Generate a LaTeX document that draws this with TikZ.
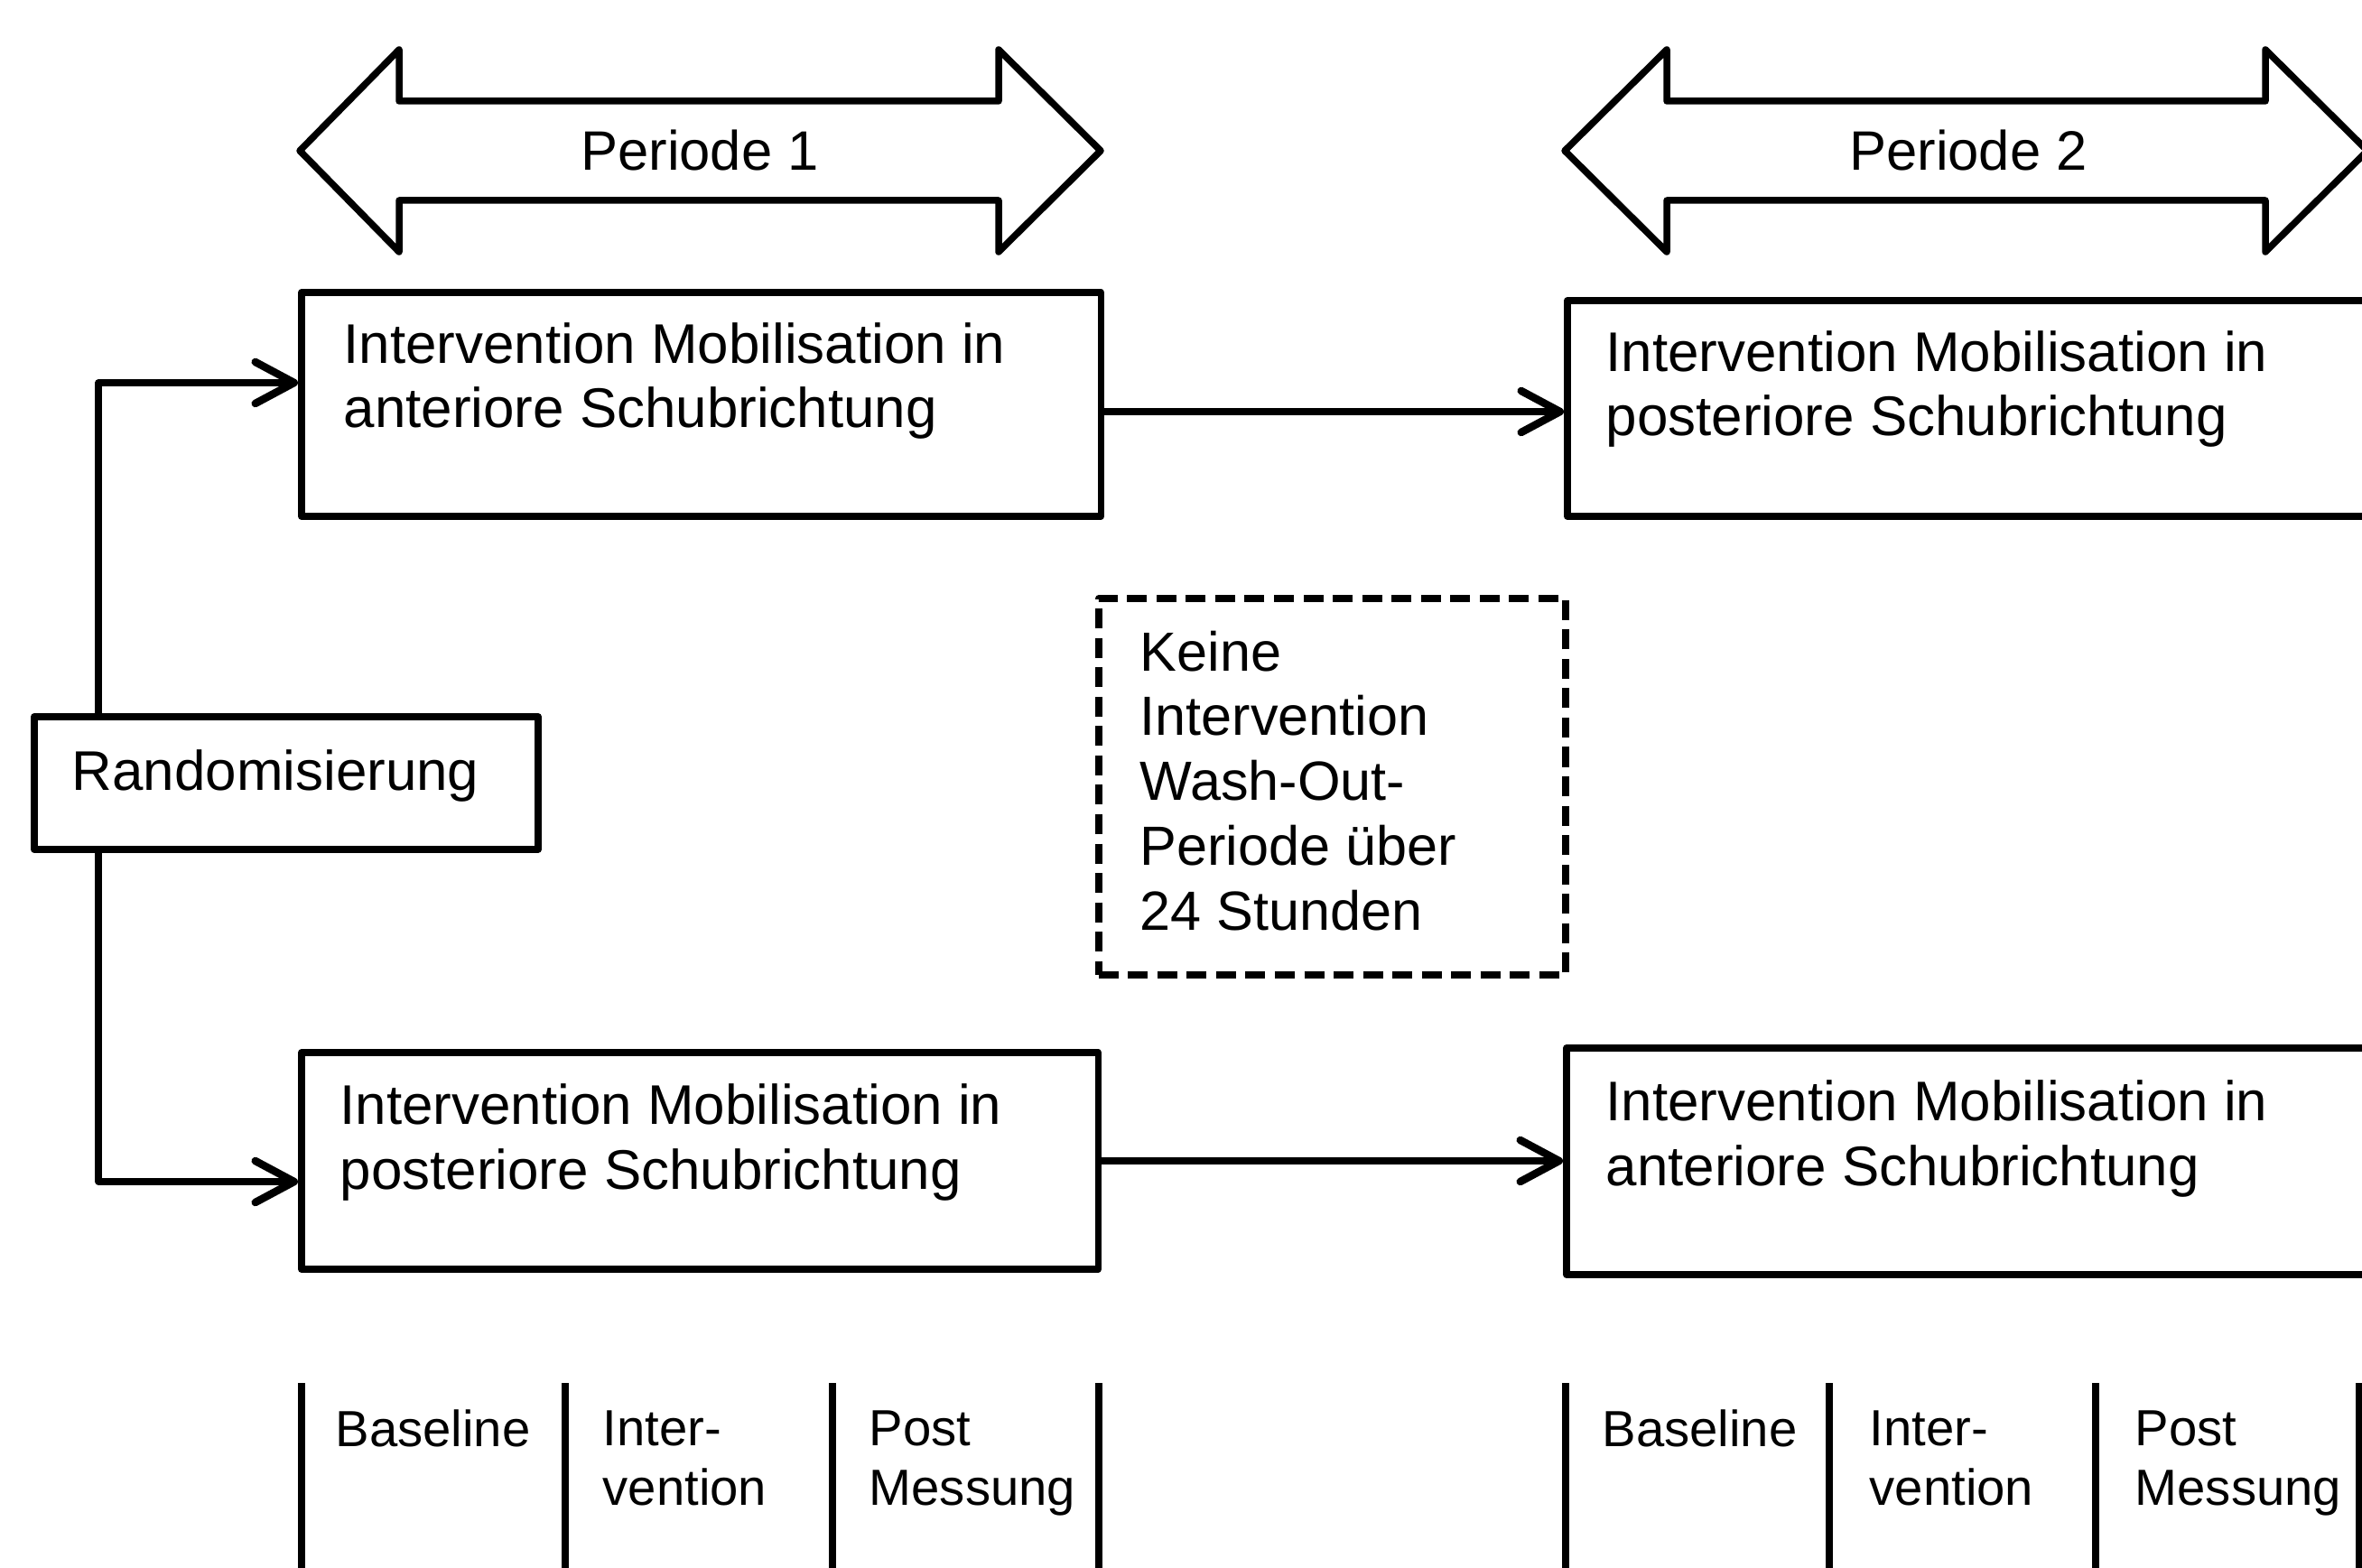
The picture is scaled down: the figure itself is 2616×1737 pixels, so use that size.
\documentclass[tikz,border=0pt]{standalone}
\usepackage{fontspec}
\setmainfont{Liberation Sans}
\usetikzlibrary{arrows.meta}
\begin{document}
\begin{tikzpicture}[x=0.01cm,y=-0.01cm,
  lw/.style={line width=0.075cm},
  box/.style={draw, lw, rectangle, inner sep=0pt, line join=round},
  dashbox/.style={box, dash pattern=on 0.22cm off 0.105cm},
  txt/.style={inner sep=0pt, align=left, anchor=base west, font=\fontsize{17.6}{20.4}\selectfont},
  lbl/.style={inner sep=0pt, align=left, anchor=base west, font=\fontsize{16}{18.5}\selectfont},
  per/.style={inner sep=0pt, anchor=base, font=\fontsize{17.5}{20}\selectfont},
  conn/.style={lw, line cap=round, line join=round, -{Straight Barb[length=0.43cm,width=0.46cm,round,line width=0.085cm]}},
  bigarrow/.style={lw, line join=round}
]
\useasboundingbox (0,0) rectangle (2616,1737);
\fill[white] (0,0) rectangle (2616,1737);

% period arrows
\draw[bigarrow] (332,167) -- (442,55) -- (442,112) -- (1106,112) -- (1106,55) -- (1219,167)
  -- (1106,279) -- (1106,222) -- (442,222) -- (442,279) -- cycle;
\node[per] (per1) at (775,189) {Periode 1};
\draw[bigarrow] (1733,167) -- (1846,55) -- (1846,112) -- (2509,112) -- (2509,55) -- (2622,167)
  -- (2509,279) -- (2509,222) -- (1846,222) -- (1846,279) -- cycle;
\node[per] (per2) at (2180,189) {Periode 2};

% boxes
\node[box, minimum width=8.85cm, minimum height=2.48cm] (b1) at (776.5,448) {};
\node[box, minimum width=8.86cm, minimum height=2.39cm] (b2) at (2179,452.5) {};
\node[box, minimum width=8.82cm, minimum height=2.40cm] (b3) at (775,1286) {};
\node[box, minimum width=8.86cm, minimum height=2.51cm] (b4) at (2178,1286.5) {};
\node[box, minimum width=5.58cm, minimum height=1.47cm] (rand) at (317,867.5) {};
\node[dashbox, minimum width=5.17cm, minimum height=4.17cm] (wash) at (1475.5,871.5) {};

% texts (anchor = baseline of the last line)
\node[txt] (t1) at (380,474) {Intervention Mobilisation in\\anteriore Schubrichtung};
\node[txt] (t2) at (1778,483) {Intervention Mobilisation in\\posteriore Schubrichtung};
\node[txt] (t3) at (376,1317) {Intervention Mobilisation in\\posteriore Schubrichtung};
\node[txt] (t4) at (1778,1313) {Intervention Mobilisation in\\anteriore Schubrichtung};
\node[txt, font=\fontsize{17.4}{20.4}\selectfont] (t5) at (1262,1030) {Keine\\Intervention\\Wash-Out-\\Periode über\\24 Stunden};
\node[inner sep=0pt, anchor=base west, font=\fontsize{17.6}{20}\selectfont] (trand) at (79,875) {Randomisierung};

% connectors
\draw[conn] ([xshift=0.75cm]rand.north west) |- ([yshift=0.24cm]b1.west);
\draw[conn] ([xshift=0.75cm]rand.south west) |- ([yshift=-0.23cm]b3.west);
\draw[conn] ([yshift=-0.08cm]b1.east) -- ([yshift=-0.08cm]b1.east -| b2.west);
\draw[conn] (b3.east) -- (b3.east -| b4.west);

% bottom phase lines
\foreach \xx in {334,626,922,1217,1734,2026,2321,2613}
  \draw[lw] (\xx,1532) -- (\xx,1745);
\node[lbl] (l1) at (371,1602) {Baseline};
\node[lbl] (l2) at (667,1667) {Inter-\\vention};
\node[lbl] (l3) at (962,1667) {Post\\Messung};
\node[lbl] (l4) at (1774,1602) {Baseline};
\node[lbl] (l5) at (2070,1667) {Inter-\\vention};
\node[lbl] (l6) at (2364,1667) {Post\\Messung};
\end{tikzpicture}
\end{document}
